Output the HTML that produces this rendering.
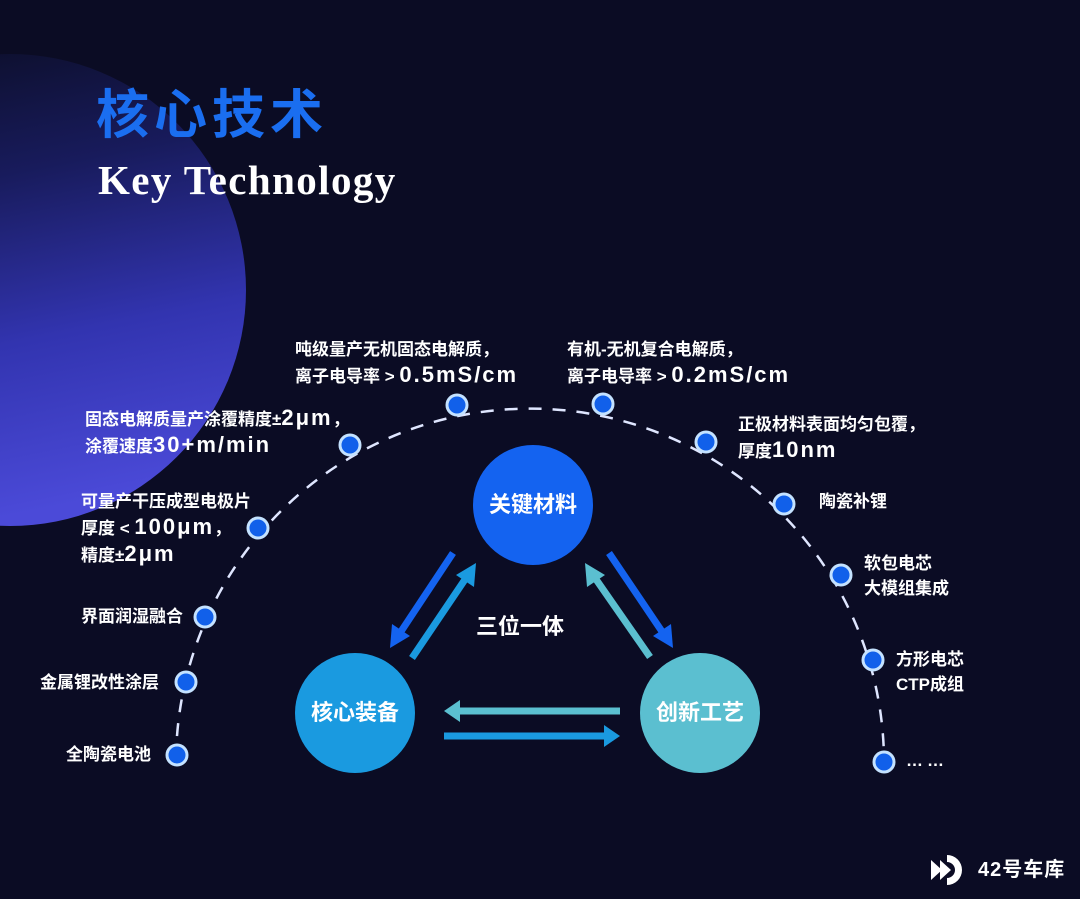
<!DOCTYPE html>
<html><head><meta charset="utf-8"><style>
html,body{margin:0;padding:0;}
body{width:1080px;height:899px;background:#0b0c24;position:relative;overflow:hidden;font-family:"Liberation Sans","Noto Sans CJK SC",sans-serif;}
.t{position:absolute;color:#fff;font-weight:bold;font-size:17px;line-height:25px;white-space:nowrap;}
.big{font-size:22px;letter-spacing:2px;}
</style></head><body>
<svg width="1080" height="899" style="position:absolute;left:0;top:0">
<defs>
<linearGradient id="cg" x1="0.2" y1="0" x2="0.4" y2="1">
<stop offset="0" stop-color="#0c0e28"/>
<stop offset="0.3" stop-color="#181b5c"/>
<stop offset="0.65" stop-color="#3234b0"/>
<stop offset="1" stop-color="#4b4ad8"/>
</linearGradient>
</defs>
<circle cx="10" cy="290" r="236" fill="url(#cg)"/>
<path d="M176,760 A353,353 0 0 1 884,765" fill="none" stroke="#dfe6ff" stroke-width="2.5" stroke-dasharray="13,11"/>
<g fill="#1160ea" stroke="#c4e2ff" stroke-width="3">
<circle cx="177" cy="755" r="10"/><circle cx="186" cy="682" r="10"/><circle cx="205" cy="617" r="10"/>
<circle cx="258" cy="528" r="10"/><circle cx="350" cy="445" r="10"/><circle cx="457" cy="405" r="10"/>
<circle cx="603" cy="404" r="10"/><circle cx="706" cy="442" r="10"/><circle cx="784" cy="504" r="10"/>
<circle cx="841" cy="575" r="10"/><circle cx="873" cy="660" r="10"/><circle cx="884" cy="762" r="10"/>
</g>
<circle cx="533" cy="505" r="60" fill="#1463f0"/>
<circle cx="355" cy="713" r="60" fill="#1a9ae0"/>
<circle cx="700" cy="713" r="60" fill="#5bbfd0"/>
<g stroke-width="7" fill="none">
<line x1="453" y1="553" x2="398" y2="636" stroke="#1463f0"/>
<polygon points="390,648 392,624 410,636" fill="#1463f0" stroke="none"/>
<line x1="412" y1="658" x2="468" y2="575" stroke="#1a9ae0"/>
<polygon points="476,563 474,587 456,575" fill="#1a9ae0" stroke="none"/>
<line x1="650" y1="657" x2="593" y2="575" stroke="#5bbfd0"/>
<polygon points="585,563 605,575 587,587" fill="#5bbfd0" stroke="none"/>
<line x1="609" y1="553" x2="665" y2="636" stroke="#1463f0"/>
<polygon points="673,648 653,636 671,624" fill="#1463f0" stroke="none"/>
<line x1="620" y1="711" x2="458" y2="711" stroke="#5bbfd0"/>
<polygon points="444,711 460,700 460,722" fill="#5bbfd0" stroke="none"/>
<line x1="444" y1="736" x2="606" y2="736" stroke="#1a9ae0"/>
<polygon points="620,736 604,725 604,747" fill="#1a9ae0" stroke="none"/>
</g>
<g transform="translate(931,855)" fill="#fff">
<polygon points="0,5 11,15 0,25"/><polygon points="9,5 20,15 9,25"/>
<path d="M16,0 A15,15 0 0 1 16,30 L16,23 A8,8 0 0 0 16,7z"/>
</g>
</svg>
<div style="position:absolute;left:96px;top:84px;font-size:53px;font-weight:bold;color:#1a6ef0;letter-spacing:5px;line-height:64px">核心技术</div>
<div style="position:absolute;left:98px;top:155px;font-size:41px;font-weight:bold;color:#fff;font-family:'Liberation Serif',serif;line-height:50px;letter-spacing:1.4px">Key Technology</div>

<div class="t" style="left:295px;top:337px">吨级量产无机固态电解质，<br>离子电导率 &gt; <span class="big">0.5mS/cm</span></div>
<div class="t" style="left:567px;top:337px">有机-无机复合电解质，<br>离子电导率 &gt; <span class="big">0.2mS/cm</span></div>
<div class="t" style="left:85px;top:405px">固态电解质量产涂覆精度±<span class="big">2μm</span>，<br>涂覆速度<span class="big">30+m/min</span></div>
<div class="t" style="left:81px;top:489px">可量产干压成型电极片<br>厚度 &lt; <span class="big">100μm</span>，<br>精度±<span class="big">2μm</span></div>
<div class="t" style="left:81px;top:604px">界面润湿融合</div>
<div class="t" style="left:40px;top:670px">金属锂改性涂层</div>
<div class="t" style="left:66px;top:742px">全陶瓷电池</div>
<div class="t" style="left:738px;top:412px">正极材料表面均匀包覆，<br>厚度<span class="big">10nm</span></div>
<div class="t" style="left:819px;top:489px">陶瓷补锂</div>
<div class="t" style="left:864px;top:551px">软包电芯<br>大模组集成</div>
<div class="t" style="left:896px;top:647px">方形电芯<br>CTP成组</div>
<div class="t" style="left:906px;top:748px;letter-spacing:4px">……</div>

<div class="t" style="left:473px;top:491px;width:120px;text-align:center;font-size:22px;line-height:28px">关键材料</div>
<div class="t" style="left:295px;top:699px;width:120px;text-align:center;font-size:22px;line-height:28px">核心装备</div>
<div class="t" style="left:640px;top:699px;width:120px;text-align:center;font-size:22px;line-height:28px">创新工艺</div>
<div class="t" style="left:476px;top:613px;font-size:22px;line-height:28px">三位一体</div>
<div class="t" style="left:978px;top:857px;font-size:20px;line-height:26px;letter-spacing:1px">42号车库</div>
</body></html>
